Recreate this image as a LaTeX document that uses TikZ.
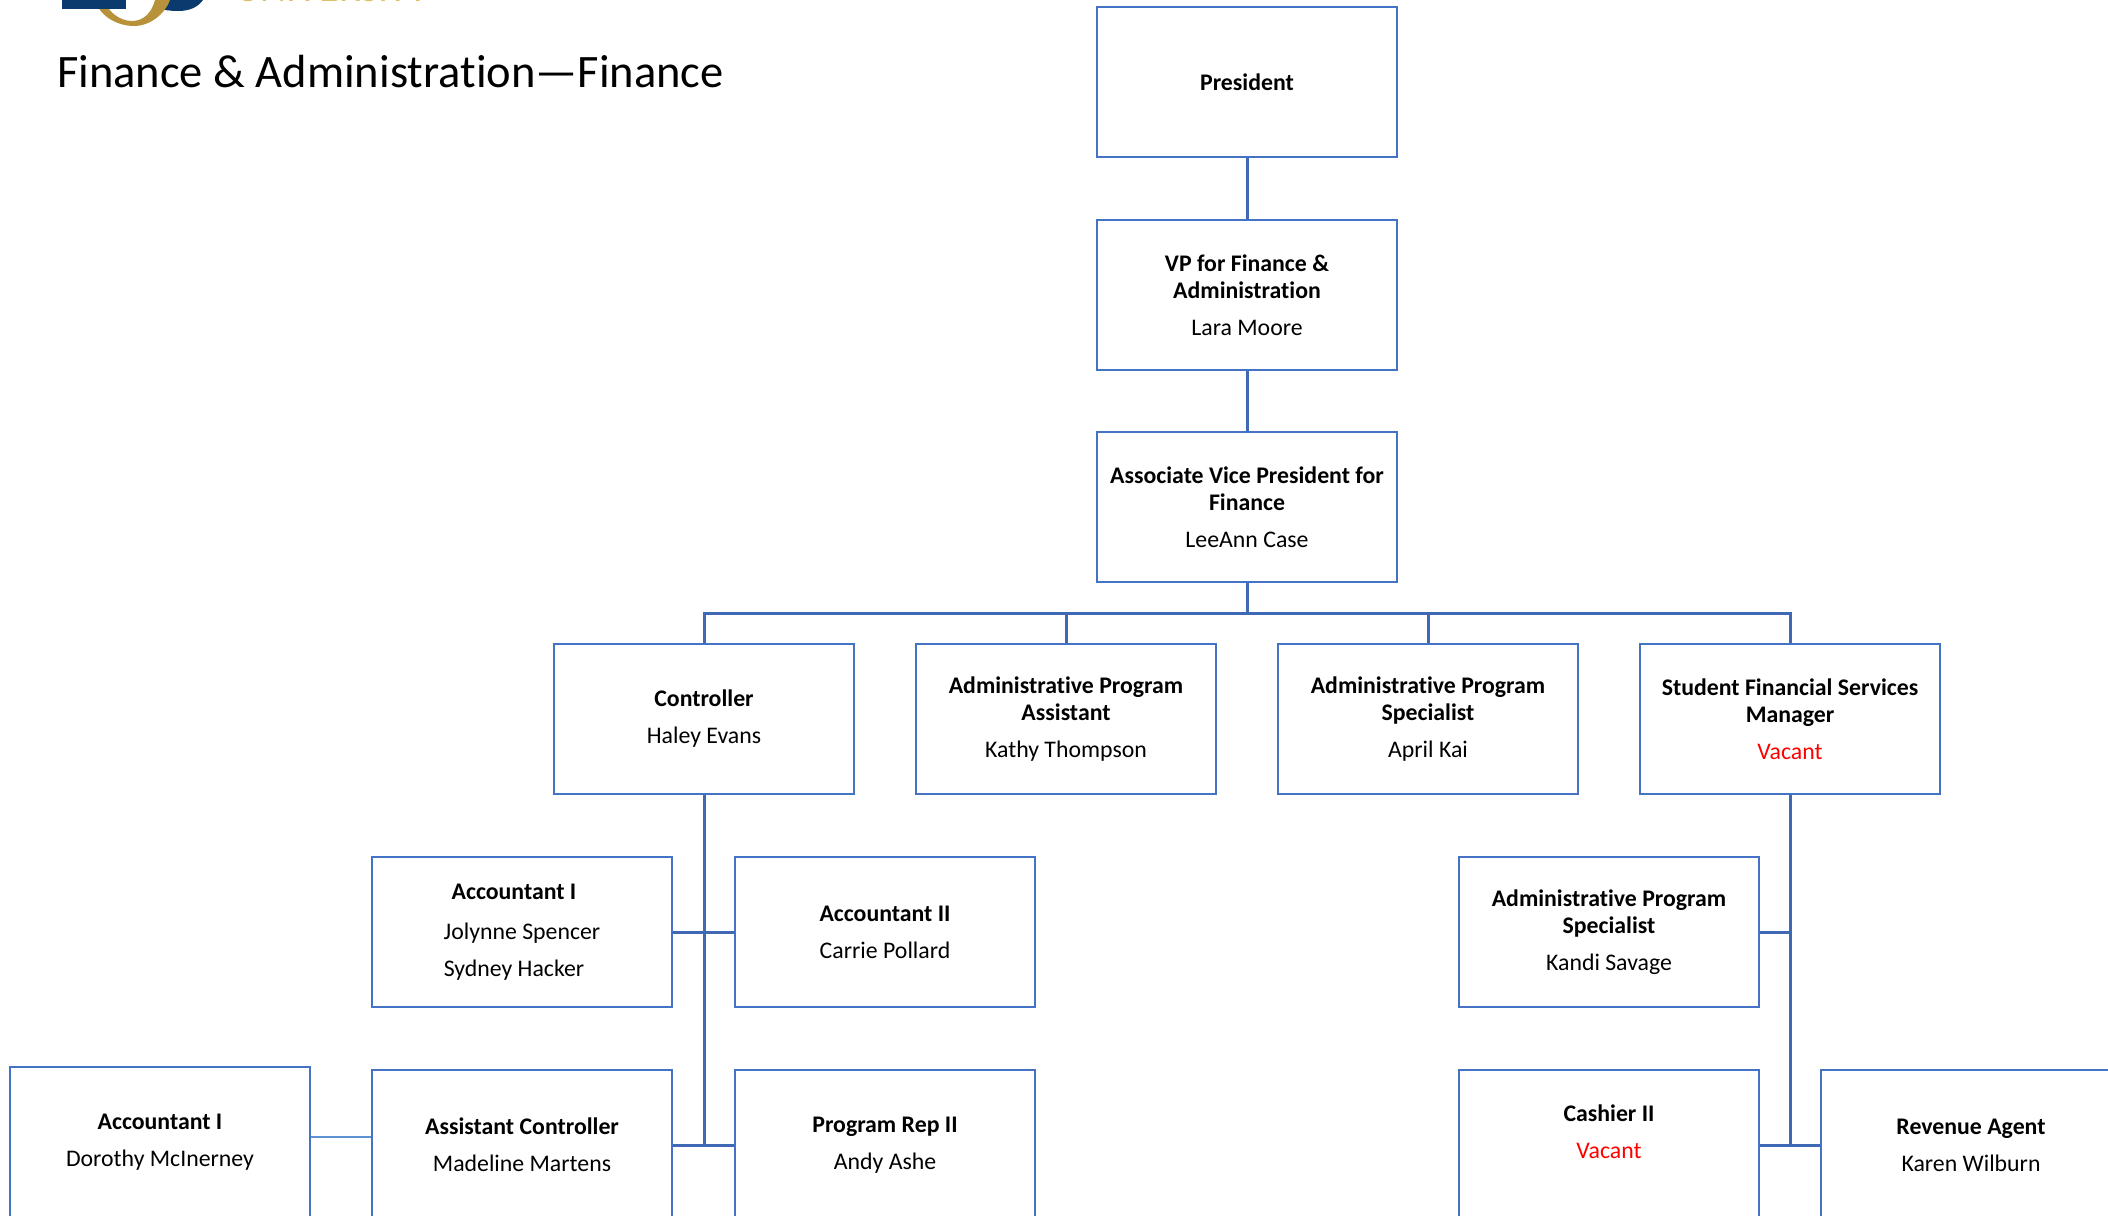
\documentclass[tikz,border=0pt]{standalone}
\usepackage{fontspec}
\setmainfont[Ligatures=NoCommon]{Carlito}
\definecolor{boxblue}{HTML}{4472C4}
\definecolor{linkblue}{HTML}{3F69B4}
\definecolor{lightlink}{HTML}{5B93D3}
\definecolor{logoblue}{HTML}{0B3A6E}
\definecolor{logogold}{HTML}{B8923A}
\definecolor{logotextgold}{HTML}{DDBF6A}
\tikzstyle{orgbox}=[draw=boxblue, line width=2.3pt, minimum width=300pt, minimum height=150pt, inner sep=0pt, align=center, font=\fontsize{23.8}{27}\selectfont\bfseries, execute at end node={\\[7pt]}]
\tikzstyle{link}=[draw=linkblue, line width=3pt]
\begin{document}
\begin{tikzpicture}[x=1pt, y=-1pt]
        \useasboundingbox (0, 0) rectangle (2108, 1215);
        \clip (0, 0) rectangle (2108, 1215);
        % logo, cut off by the top edge
        \fill[logoblue] (158, 0) -- (203, 0) .. controls (198, 7) and (190, 11) .. (178, 11) .. controls (170, 11) and (163, 10) .. (158, 8) -- cycle;
        \fill[logogold] (95, 0) .. controls (100, 17) and (118, 26) .. (134, 26) .. controls (150, 26) and (165, 14) .. (170, 0) -- (155, 0) .. controls (152, 12) and (144, 21) .. (132, 21) .. controls (120, 21) and (108, 12) .. (104, 0) -- cycle;
        \fill[logoblue] (62, 0) rectangle (126, 9);
        \node[anchor=base west, text=logotextgold, font=\fontsize{40}{40}\selectfont, inner sep=0pt] (logotext) at (235, 2) {UNIVERSITY};
        \node[anchor=base west, inner sep=0pt, font=\fontsize{46.5}{50}\selectfont] (pagetitle) at (57, 87) {Finance \& Administration—Finance};
        % top of the chart
        \node[orgbox] (pres) at (1247, 82) {President};
        \node[orgbox] (vp) at (1247, 295) {VP for Finance \&\\ Administration\\[10pt] \mdseries Lara Moore};
        \node[orgbox] (avp) at (1247, 507) {Associate Vice President for\\ Finance\\[10pt] \mdseries LeeAnn Case};
        % direct reports
        \node[orgbox] (ctrl) at (704, 719) {Controller\\[10pt] \mdseries Haley Evans};
        \node[orgbox] (apa) at (1066, 719) {Administrative Program\\ Assistant\\[10pt] \mdseries Kathy Thompson};
        \node[orgbox] (aps) at (1428, 719) {Administrative Program\\ Specialist\\[10pt] \mdseries April Kai};
        \node[orgbox] (sfsm) at (1790, 719) {Student Financial Services\\ Manager\\[10pt] \mdseries\textcolor{red}{Vacant}};
        % under the controller
        \node[orgbox] (acct1) at (522, 932) {Accountant I\hspace*{16pt}\\[13pt] \mdseries Jolynne Spencer\hspace*{13pt}\\[10pt] \mdseries Sydney Hacker\hspace*{16pt}};
        \node[orgbox, execute at end node={\\[12pt]}] (acct2) at (885, 932) {Accountant II\\[10pt] \mdseries Carrie Pollard};
        \node[orgbox] (acct3) at (160, 1142) {Accountant I\\[10pt] \mdseries Dorothy McInerney};
        \node[orgbox] (asst) at (522, 1145) {Assistant Controller\\[10pt] \mdseries Madeline Martens};
        \node[orgbox] (rep) at (885, 1145) {Program Rep II\\[10pt] \mdseries Andy Ashe};
        % under the services manager
        \node[orgbox] (aps2) at (1609, 932) {Administrative Program\\ Specialist\\[10pt] \mdseries Kandi Savage};
        \node[orgbox] (cash) at (1609, 1145) {Cashier II\\[10pt] \mdseries\textcolor{red}{Vacant}\\[0pt] \mbox{}};
        \node[orgbox] (rev) at (1971, 1145) {Revenue Agent\\[10pt] \mdseries Karen Wilburn};
        \coordinate (bus) at (1247, 613);
        \coordinate (ctrlend) at (704, 1145);
        \coordinate (sfsmend) at (1790, 1145);
        \coordinate (acct3mark) at (340, 1137);
        \draw[link] (pres) -- (vp);
        \draw[link] (vp) -- (avp);
        \draw[link] (avp) -- (bus);
        \draw[link] (bus) -| (ctrl);
        \draw[link] (bus) -| (apa);
        \draw[link] (bus) -| (aps);
        \draw[link] (bus) -| (sfsm);
        \draw[link] (ctrl) -- (ctrlend);
        \draw[link] (acct1) -- (acct2);
        \draw[link] (asst) -- (rep);
        \draw[link] (sfsm) -- (sfsmend);
        \draw[link] (aps2.east) -- (aps2.east -| sfsm);
        \draw[link] (cash) -- (rev);
        \draw[draw=lightlink, line width=1.8pt] (acct3.east |- acct3mark) -- (asst.west |- acct3mark);
\end{tikzpicture}
\end{document}
